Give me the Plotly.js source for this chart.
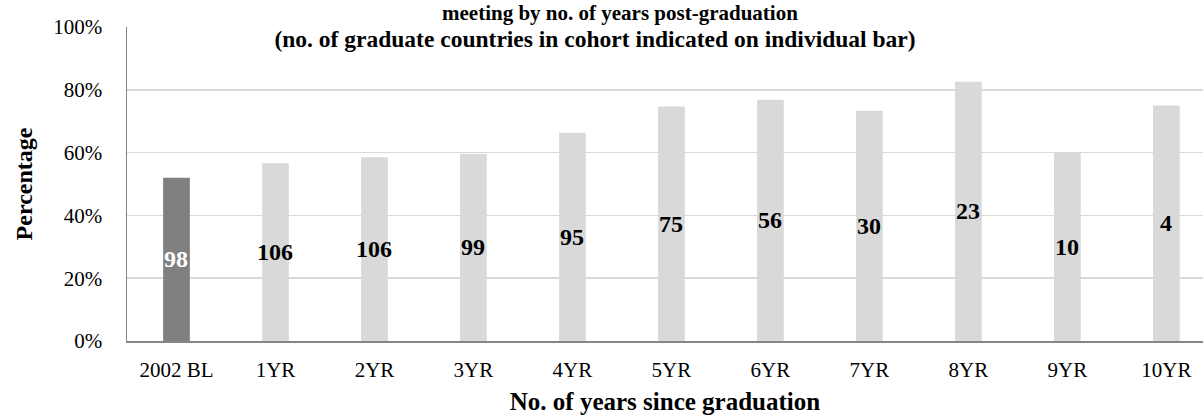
<!DOCTYPE html>
<html>
<head>
<meta charset="utf-8">
<script src="https://cdn.plot.ly/plotly-3.0.1.min.js"></script>
<style>
html, body { margin: 0; padding: 0; background: #ffffff; overflow: hidden; }
#chart { width: 1203px; height: 417px; }
</style>
</head>
<body>
<div id="chart"></div>
<script>
// Data
var categories = ["2002 BL", "1YR", "2YR", "3YR", "4YR", "5YR", "6YR", "7YR", "8YR", "9YR", "10YR"];
var percentages = [52.0, 56.6, 58.5, 59.6, 66.3, 74.7, 76.8, 73.3, 82.6, 60.0, 75.0];
var cohortCounts = [98, 106, 106, 99, 95, 75, 56, 30, 23, 10, 4];
var yTickValues = [0, 20, 40, 60, 80, 100];
var yTickLabels = ["0%", "20%", "40%", "60%", "80%", "100%"];
var titleLine1 = "meeting by no. of years post-graduation";
var titleLine2 = "(no. of graduate countries in cohort indicated on individual bar)";
var xTitle = "No. of years since graduation";
var yTitle = "Percentage";

var FONT = "'Liberation Serif', 'DejaVu Serif', serif";
var barColors = categories.map(function (c, i) { return i === 0 ? "#808080" : "#d9d9d9"; });

var trace = {
  type: "bar",
  x: categories,
  y: percentages,
  width: 0.27,
  marker: { color: barColors, line: { width: 0 } },
  hoverinfo: "x+y"
};

var annotations = categories.map(function (c, i) {
  return {
    x: c,
    y: percentages[i] / 2,
    xref: "x",
    yref: "y",
    text: "<b>" + cohortCounts[i] + "</b>",
    showarrow: false,
    font: { family: FONT, size: 24, color: i === 0 ? "#ffffff" : "#000000" }
  };
});
annotations.push({
  xref: "paper", yref: "paper",
  x: (620 - 127) / 1076, y: 1, yanchor: "middle", yshift: 27 - 12.5,
  text: "<b>" + titleLine1 + "</b>",
  showarrow: false,
  font: { family: FONT, size: 21, color: "#000000" }
});

var layout = {
  width: 1203,
  height: 417,
  margin: { l: 127, r: 0, t: 27, b: 76 },
  paper_bgcolor: "#ffffff",
  plot_bgcolor: "#ffffff",
  showlegend: false,
  title: {
    text: "<b>" + titleLine2 + "</b>",
    x: 595 / 1203, xanchor: "center", xref: "container",
    y: 1 - 38.5 / 417, yanchor: "middle", yref: "container",
    font: { family: FONT, size: 23.5, color: "#000000" }
  },
  xaxis: {
    type: "category",
    range: [-0.5, 10.37],
    showgrid: false,
    showline: true,
    linecolor: "#868686",
    linewidth: 1.5,
    ticks: "",
    tickfont: { family: FONT, size: 21, color: "#000000" },
    ticklabelstandoff: 9,
    title: { text: "<b>" + xTitle + "</b>", font: { family: FONT, size: 25, color: "#000000" }, standoff: 12 },
    fixedrange: true
  },
  yaxis: {
    range: [0, 100],
    tickvals: yTickValues,
    ticktext: yTickLabels,
    showgrid: true,
    gridcolor: "#d9d9d9",
    gridwidth: 1.5,
    zeroline: false,
    showline: true,
    linecolor: "#868686",
    linewidth: 1.5,
    ticks: "",
    ticklabelstandoff: 19,
    tickfont: { family: FONT, size: 21, color: "#000000" },
    title: { text: "<b>" + yTitle + "</b>", font: { family: FONT, size: 24, color: "#000000" }, standoff: 14 },
    fixedrange: true
  },
  annotations: annotations,
  bargap: 0.73
};

Plotly.newPlot("chart", [trace], layout, { displayModeBar: false, staticPlot: true });
</script>
</body>
</html>
